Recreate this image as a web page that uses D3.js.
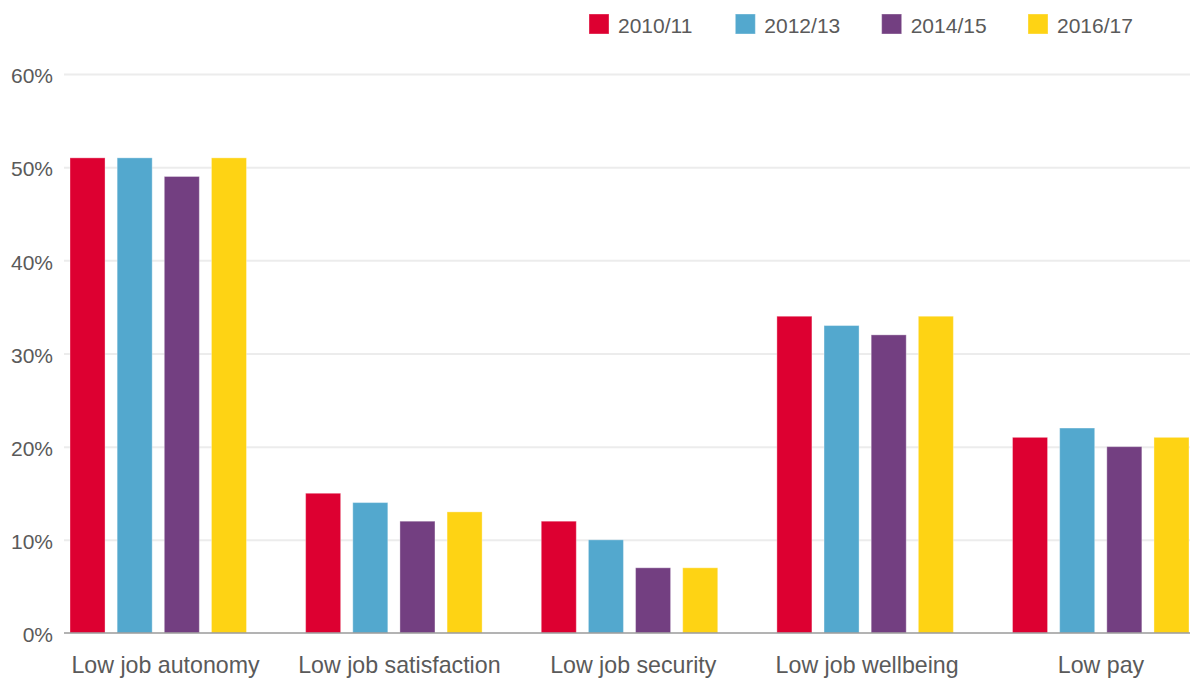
<!DOCTYPE html>
<html>
<head>
<meta charset="utf-8">
<script src="https://cdn.jsdelivr.net/npm/d3@7"></script>
<style>
  html, body { margin: 0; padding: 0; background: #fff; }
  svg { display: block; font-family: "Liberation Sans", Arial, Helvetica, sans-serif; }
</style>
</head>
<body>
<svg id="chart" width="1190" height="679"></svg>
<script>
// Share of employees reporting each job-quality problem, by survey period (%)
const categories = ["Low job autonomy", "Low job satisfaction", "Low job security", "Low job wellbeing", "Low pay"];
const periods = ["2010/11", "2012/13", "2014/15", "2016/17"];
const values2010 = [51, 15, 12, 34, 21];
const values2012 = [51, 14, 10, 33, 22];
const values2014 = [49, 12, 7, 32, 20];
const values2016 = [51, 13, 7, 34, 21];
const yTicks = [0, 10, 20, 30, 40, 50, 60];
const colours = ["#dd0031", "#53a8ce", "#733f81", "#fed314"];

const seriesValues = [values2010, values2012, values2014, values2016];
const rows = categories.map((c, i) => ({
  category: c,
  bars: periods.map((p, j) => ({ period: p, value: seriesValues[j][i], colour: colours[j] }))
}));

const svg = d3.select("#chart");
const textColour = "#5a5a5a";

const x0 = d3.scaleBand().domain(categories).range([70, 1189]).paddingInner(0.251).paddingOuter(0);
const x1 = d3.scaleBand().domain(periods).range([0, x0.bandwidth()]).paddingInner(0.257).paddingOuter(0);
const xLabel = d3.scalePoint().domain(categories).range([165, 1100.5]);
const y = d3.scaleLinear().domain([0, 60]).range([633, 74]);

// Gridlines and y tick labels
const yAxis = d3.axisLeft(y).tickValues(yTicks).tickSize(-(1190 - 64)).tickFormat(d => d + "%");
const gy = svg.append("g").attr("transform", "translate(64,0)").call(yAxis);
gy.select(".domain").remove();
gy.selectAll(".tick line").attr("stroke", "#ececec").attr("stroke-width", 2);
gy.selectAll(".tick text")
  .attr("x", -11)
  .attr("dy", "0.42em")
  .attr("fill", textColour)
  .style("font-size", "21px")
  .style("font-family", "'Liberation Sans', Arial, sans-serif");
gy.selectAll(".tick").filter(d => d === 0).select("line").remove();

// Bars
const groups = svg.append("g").selectAll("g")
  .data(rows)
  .join("g")
  .attr("transform", d => `translate(${x0(d.category)},0)`);

groups.selectAll("rect")
  .data(d => d.bars)
  .join("rect")
  .attr("x", d => x1(d.period))
  .attr("y", d => y(d.value))
  .attr("width", x1.bandwidth())
  .attr("height", d => y(0) - y(d.value))
  .attr("fill", d => d.colour)
  .attr("stroke", "#ffffff")
  .attr("stroke-opacity", 0.35)
  .attr("stroke-width", 1);

// Baseline and category labels
svg.append("line")
  .attr("x1", 64).attr("x2", 1190)
  .attr("y1", y(0)).attr("y2", y(0))
  .attr("stroke", "#9a9a9a").attr("stroke-width", 1.5);
const xAxis = d3.axisBottom(xLabel).tickSize(0).tickPadding(0);
const gx = svg.append("g").attr("transform", `translate(0,${y(0)})`).call(xAxis);
gx.select(".domain").remove();
gx.selectAll(".tick text")
  .attr("y", 40)
  .attr("dy", 0)
  .attr("fill", textColour)
  .style("font-size", "23.2px")
  .style("font-family", "'Liberation Sans', Arial, sans-serif");

// Legend
const legendX = d3.scalePoint().domain(periods).range([589, 1028]);
const legend = svg.append("g").selectAll("g")
  .data(periods.map((p, j) => ({ period: p, colour: colours[j] })))
  .join("g")
  .attr("transform", d => `translate(${legendX(d.period)},14)`);
legend.append("rect")
  .attr("width", 20).attr("height", 20)
  .attr("fill", d => d.colour)
  .attr("stroke", "#ffffff").attr("stroke-opacity", 0.35);
legend.append("text")
  .attr("x", 29).attr("y", 19)
  .attr("fill", textColour)
  .style("font-size", "21px")
  .text(d => d.period);
</script>
</body>
</html>
